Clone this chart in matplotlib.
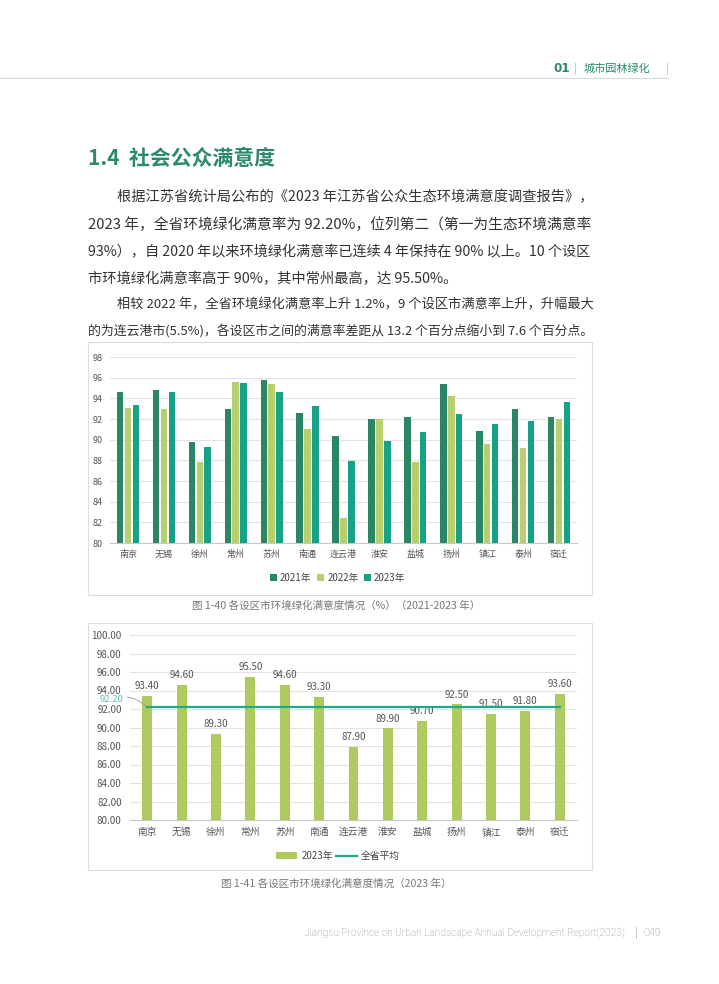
#1.4 社会公众满意度 - 各设区市环境绿化满意度
import matplotlib.pyplot as plt
import numpy as np
from matplotlib.patches import Rectangle
from matplotlib.lines import Line2D

plt.rcParams['font.family'] = ['Noto Sans CJK SC', 'DejaVu Sans']

#Datos
ciudades = ['南京', '无锡', '徐州', '常州', '苏州', '南通', '连云港',
            '淮安', '盐城', '扬州', '镇江', '泰州', '宿迁']
v2021 = [94.6, 94.8, 89.8, 93.0, 95.8, 92.6, 90.4, 92.0, 92.2, 95.4, 90.8, 93.0, 92.2]
v2022 = [93.1, 93.0, 87.8, 95.6, 95.4, 91.0, 82.4, 92.0, 87.8, 94.2, 89.6, 89.2, 92.0]
v2023 = [93.4, 94.6, 89.3, 95.5, 94.6, 93.3, 87.9, 89.9, 90.7, 92.5, 91.5, 91.8, 93.6]
promedio = 92.20
yticks1 = [80, 82, 84, 86, 88, 90, 92, 94, 96, 98]
yticks2 = [80, 82, 84, 86, 88, 90, 92, 94, 96, 98, 100]

verde_osc = '#2a8663'
verde_cla = '#b8cf6f'
turquesa = '#17a186'
verde_bar = '#afca5e'
linea_prom = '#1caa8c'
titulo_col = '#2a8a6a'

W, H = 719, 984
def fx(x): return x / W
def fy(y): return 1 - y / H

fig = plt.figure(figsize=(7.19, 9.84), dpi=100)
fig.patch.set_facecolor('white')
renderer = fig.canvas.get_renderer()

#Cabecera
fig.add_artist(Line2D([0, fx(668)], [fy(78), fy(78)], color='#cfdcd8', lw=0.8))
fig.text(fx(553), fy(69), '01', color=titulo_col, fontsize=9.5, weight='bold', va='center',
         family='DejaVu Sans', stretch='condensed')
fig.text(fx(574), fy(69), '|', color='#aaaaaa', fontsize=7, va='center')
fig.text(fx(584), fy(69), '城市园林绿化', color=titulo_col, fontsize=8, va='center')
fig.text(fx(666), fy(69), '|', color='#aaaaaa', fontsize=7, va='center')

#Titulo
fig.text(fx(88), fy(158), '1.4  社会公众满意度', color=titulo_col, fontsize=15, weight='bold', va='center')

#Texto (las lineas justificadas se ajustan al margen derecho)
lineas = [
    (117, 197, '根据江苏省统计局公布的《2023 年江苏省公众生态环境满意度调查报告》，', True),
    (88, 225, '2023 年，全省环境绿化满意率为 92.20%，位列第二（第一为生态环境满意率', True),
    (88, 252, '93%），自 2020 年以来环境绿化满意率已连续 4 年保持在 90% 以上。10 个设区', True),
    (88, 279, '市环境绿化满意率高于 90%，其中常州最高，达 95.50%。', False),
    (117, 305, '相较 2022 年，全省环境绿化满意率上升 1.2%，9 个设区市满意率上升，升幅最大', True),
    (88, 331, '的为连云港市(5.5%)，各设区市之间的满意率差距从 13.2 个百分点缩小到 7.6 个百分点。', True),
]
fs = 10.3
for x, y, t, just in lineas:
    txt = fig.text(fx(x), fy(y), t, color='#333333', fontsize=fs, va='center')
    if just:
        ancho = txt.get_window_extent(renderer).width
        txt.set_fontsize(fs * (591 - x) / ancho)

#Marcos de las graficas
for y0, y1 in [(342, 595), (623, 870)]:
    fig.add_artist(Rectangle((fx(88), fy(y1)), fx(592) - fx(88), fy(y0) - fy(y1),
                             transform=fig.transFigure, fill=False, ec='#dddddd', lw=0.8))

x = np.arange(len(ciudades))

#Grafica 1: 2021-2023
ax1 = fig.add_axes([fx(110), fy(543), fx(577) - fx(110), fy(357) - fy(543)])
ax1.bar(x - 0.22, v2021, 0.18, color=verde_osc, label='2021年', zorder=3)
ax1.bar(x, v2022, 0.18, color=verde_cla, label='2022年', zorder=3)
ax1.bar(x + 0.22, v2023, 0.18, color=turquesa, label='2023年', zorder=3)
ax1.set_ylim(80, 98)
ax1.set_xlim(-0.5, len(ciudades) - 0.5)
ax1.set_yticks(yticks1)
ax1.set_xticks(x)
ax1.set_xticklabels(ciudades)
ax1.grid(axis='y', color='#e3e3e3', lw=0.8, zorder=0)
for s in ['top', 'right', 'left']:
    ax1.spines[s].set_visible(False)
ax1.spines['bottom'].set_color('#c8c8c8')
ax1.tick_params(axis='both', length=0, labelsize=6.5, colors='#555555')
ax1.tick_params(axis='x', pad=5)
ax1.tick_params(axis='y', pad=5)
ax1.legend(loc='center', bbox_to_anchor=(fx(338), fy(578)), bbox_transform=fig.transFigure,
           ncol=3, frameon=False, fontsize=7, handlelength=0.7, handleheight=0.7,
           handletextpad=0.3, columnspacing=0.6, labelcolor='#444444')
fig.text(fx(336), fy(606), '图 1-40 各设区市环境绿化满意度情况（%）（2021-2023 年）',
         color='#777777', fontsize=7.6, ha='center', va='center')

#Grafica 2: 2023 y promedio provincial
ax2 = fig.add_axes([fx(130), fy(820), fx(577) - fx(130), fy(635) - fy(820)])
barras = ax2.bar(x, v2023, 0.29, color=verde_bar, label='2023年', zorder=3)
linea, = ax2.plot(x, [promedio] * len(x), color=linea_prom, lw=1.6, label='全省平均', zorder=4)
for xi, v in zip(x, v2023):
    ax2.annotate('%.2f' % v, (xi, v), xytext=(0, 3.5), textcoords='offset points',
                 ha='center', va='bottom', fontsize=7, color='#555555')
ax2.annotate('%.2f' % promedio, xy=(0, promedio), xytext=(fx(123), fy(699)),
             textcoords='figure fraction', ha='right', va='center', fontsize=6.8,
             color='#5cc0ad', arrowprops=dict(arrowstyle='-', color='#999999', lw=0.6,
                                              connectionstyle='arc3,rad=-0.3',
                                              shrinkA=1, shrinkB=0))
ax2.set_ylim(80, 100)
ax2.set_xlim(-0.5, len(ciudades) - 0.5)
ax2.set_yticks(yticks2)
ax2.set_yticklabels(['%.2f' % t for t in yticks2])
ax2.set_xticks(x)
ax2.set_xticklabels(ciudades)
ax2.grid(axis='y', color='#e3e3e3', lw=0.8, zorder=0)
for s in ['top', 'right', 'left']:
    ax2.spines[s].set_visible(False)
ax2.spines['bottom'].set_color('#c8c8c8')
ax2.tick_params(axis='both', length=0, labelsize=7, colors='#555555')
ax2.tick_params(axis='x', pad=5)
ax2.tick_params(axis='y', pad=6)
ax2.legend([barras, linea], ['2023年', '全省平均'], loc='center',
           bbox_to_anchor=(fx(338), fy(856)), bbox_transform=fig.transFigure,
           ncol=2, frameon=False, fontsize=7, handlelength=2.2, handleheight=0.6,
           handletextpad=0.4, columnspacing=0.3, labelcolor='#444444')
fig.text(fx(336), fy(884), '图 1-41 各设区市环境绿化满意度情况（2023 年）',
         color='#777777', fontsize=7.6, ha='center', va='center')

#Pie de pagina
fig.text(fx(625), fy(933), 'Jiangsu Province on Urban Landscape Annual Development Report(2023)',
         color='#8a8a8a', fontsize=7.3, ha='right', va='center', family='Roboto', weight='light')
fig.text(fx(636), fy(933), '|', color='#aaaaaa', fontsize=7, ha='center', va='center')
fig.text(fx(643), fy(933), '049', color='#8a8a8a', fontsize=7.8, va='center', family='Roboto', weight='light')

plt.savefig('out.png', dpi=100)
